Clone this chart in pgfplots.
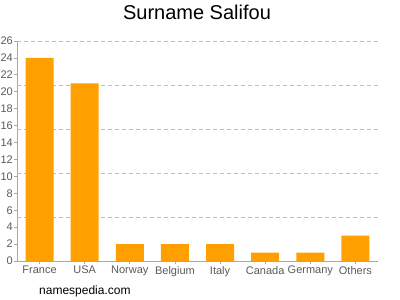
\documentclass[border=0pt]{standalone}
\usepackage{fontspec}
\setmainfont{Liberation Sans}
\usepackage{pgfplots}
\pgfplotsset{compat=1.18}
\definecolor{barorange}{HTML}{FFA000}
\definecolor{axisgray}{HTML}{A8A8A8}
\definecolor{labelgray}{HTML}{5A5A5A}
\definecolor{gridgray}{HTML}{BDBDBD}
\begin{document}
\begin{tikzpicture}[x=1pt,y=1pt]
\useasboundingbox (0,0) rectangle (400,300);
\begin{axis}[
  at={(17pt,39pt)}, anchor=south west,
  scale only axis, width=361pt, height=220pt,
  xmin=-0.5, xmax=7.5, ymin=0, ymax=26,
  axis x line=bottom, axis y line=left,
  axis line style={-, axisgray, line width=0.8pt},
  ytick={0,2,...,26},
  xtick={0,...,7},
  xticklabels={France,USA,Norway,Belgium,Italy,Canada,Germany,Others},
  tick style={axisgray, line width=0.8pt},
  major tick length=3pt,
  tick align=outside,
  ticklabel style={font=\fontsize{11}{13}\selectfont, text=labelgray},
  yticklabel style={inner xsep=1pt},
  xticklabel style={inner ysep=2pt},
  /pgf/number format/assume math mode=true,
  extra y ticks={5.2,10.4,15.6,20.8,26},
  extra y tick labels={},
  extra y tick style={grid=major, major tick length=0pt, grid style={gridgray, dashed, line width=0.8pt, dash pattern=on 4pt off 3pt}},
  ybar, bar width=28pt,
  clip=false,
]
\addplot[draw=none, fill=barorange] coordinates {
  (0,24) (1,21) (2,2) (3,2) (4,2) (5,1) (6,1) (7,3)
};
\end{axis}
\node[anchor=base, font=\fontsize{20}{24}\selectfont] at (197,280) {Surname Salifou};
\node[anchor=base west, inner sep=0pt, font=\fontsize{12}{14}\selectfont] at (39,5) {namespedia.com};
\end{tikzpicture}
\end{document}
